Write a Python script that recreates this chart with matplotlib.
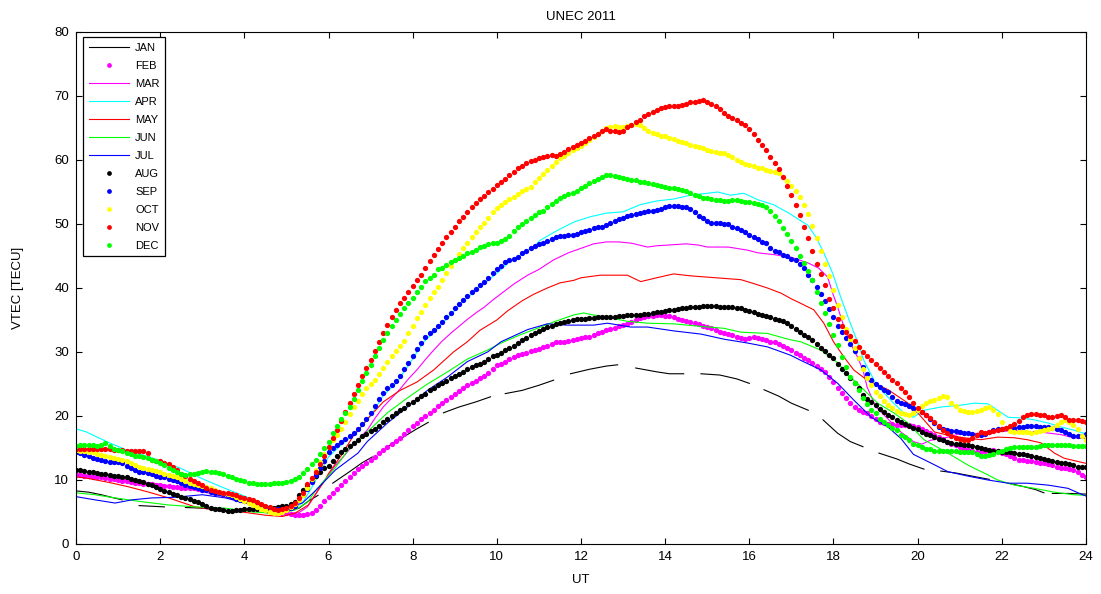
import numpy as np
import matplotlib
matplotlib.use("Agg")
import matplotlib.pyplot as plt

plt.rcParams['font.family'] = ['Liberation Sans', 'DejaVu Sans']

# time grid of the dotted series (0.1 h steps)
UT = np.round(np.arange(241) * 0.1, 1)

FEB = [10.8,10.8,10.7,10.6,10.5,10.5,10.4,10.3,10.2,10.1,
       10.0,9.9,9.8,9.7,9.6,9.5,9.4,9.3,9.3,9.2,
       9.2,9.1,9.0,8.9,8.9,8.8,8.8,8.7,8.7,8.6,
       8.5,8.4,8.3,8.2,8.1,8.0,7.8,7.5,7.3,7.0,
       6.7,6.5,6.2,6.0,5.8,5.6,5.4,5.2,5.0,4.9,
       4.8,4.7,4.6,4.5,4.5,4.7,4.9,5.3,6.0,6.7,
       7.3,8.0,8.6,9.2,9.9,10.5,11.1,11.7,12.2,12.6,
       13.1,13.6,14.2,14.7,15.2,15.6,16.1,16.6,17.2,17.8,
       18.4,18.9,19.5,20.0,20.5,21.0,21.5,22.0,22.5,23.0,
       23.4,23.9,24.4,24.8,25.2,25.5,25.9,26.3,26.7,27.3,
       27.9,28.2,28.5,28.9,29.2,29.5,29.7,29.9,30.1,30.3,
       30.5,30.8,31.0,31.3,31.5,31.6,31.6,31.7,31.9,32.0,
       32.2,32.3,32.4,32.6,32.9,33.2,33.4,33.6,33.8,34.0,
       34.2,34.4,34.7,35.0,35.3,35.5,35.6,35.7,35.8,35.8,
       35.7,35.6,35.4,35.2,35.0,34.9,34.7,34.5,34.3,34.1,
       33.9,33.7,33.4,33.2,32.9,32.8,32.6,32.4,32.2,32.1,
       32.2,32.3,32.2,32.0,31.8,31.6,31.5,31.3,31.0,30.7,
       30.3,29.9,29.5,29.1,28.7,28.3,27.8,27.3,26.8,26.1,
       25.3,24.3,23.6,22.8,22.1,21.4,21.0,20.7,20.5,20.0,
       19.6,19.1,18.9,18.8,18.7,18.6,18.6,18.6,18.6,18.5,
       18.3,17.9,17.6,17.3,17.0,16.7,16.4,16.0,15.7,15.4,
       15.1,14.9,14.7,14.5,14.4,14.4,14.5,14.6,14.7,14.5,
       14.2,14.0,13.8,13.5,13.2,13.1,13.0,12.9,12.8,12.7,
       12.6,12.5,12.3,12.1,11.9,11.8,11.7,11.6,11.3,10.8,
       10.5]

AUG = [11.6,11.5,11.4,11.3,11.2,11.1,11.0,10.9,10.8,10.7,
       10.6,10.5,10.4,10.2,10.0,9.9,9.7,9.4,9.2,8.9,
       8.6,8.3,8.1,7.8,7.6,7.4,7.2,7.0,6.7,6.5,
       6.2,6.0,5.7,5.5,5.4,5.3,5.2,5.2,5.3,5.3,
       5.4,5.5,5.5,5.5,5.6,5.6,5.7,5.7,5.8,5.9,
       6.0,6.2,6.6,7.7,8.4,9.1,9.9,10.7,11.3,11.8,
       12.2,13.0,13.7,14.3,14.8,15.3,15.8,16.3,16.8,17.2,
       17.6,18.0,18.5,19.0,19.5,20.0,20.5,20.9,21.3,21.8,
       22.2,22.6,23.1,23.5,24.0,24.4,24.8,25.2,25.5,25.9,
       26.2,26.6,26.9,27.3,27.6,27.9,28.2,28.5,28.9,29.3,
       29.6,29.9,30.3,30.6,31.0,31.4,31.8,32.2,32.6,32.9,
       33.3,33.6,33.9,34.1,34.3,34.5,34.7,34.8,35.0,35.1,
       35.2,35.2,35.3,35.3,35.4,35.4,35.5,35.5,35.5,35.6,
       35.7,35.8,35.8,35.8,35.8,35.9,36.0,36.1,36.2,36.3,
       36.4,36.5,36.6,36.7,36.8,36.9,37.0,37.1,37.1,37.2,
       37.2,37.2,37.2,37.1,37.0,37.0,37.0,36.9,36.8,36.6,
       36.4,36.2,36.0,35.8,35.6,35.4,35.2,35.0,34.8,34.5,
       34.1,33.6,33.1,32.7,32.3,31.9,31.3,30.7,30.2,29.6,
       29.0,28.2,27.4,26.7,25.9,25.1,24.3,23.3,22.6,22.2,
       21.7,21.1,20.6,20.2,19.8,19.4,19.1,18.7,18.4,18.2,
       17.9,17.5,17.2,17.0,16.7,16.4,16.2,16.0,15.8,15.7,
       15.6,15.5,15.4,15.3,15.1,15.0,14.8,14.7,14.6,14.5,
       14.4,14.3,14.3,14.2,14.1,14.0,13.9,13.8,13.6,13.4,
       13.3,13.1,12.9,12.8,12.7,12.6,12.5,12.3,12.1,12.0,
       12.0]

SEP = [14.4,14.2,13.9,13.7,13.5,13.3,13.1,12.9,12.8,12.8,
       12.8,12.6,12.2,11.8,11.5,11.3,11.2,11.1,10.9,10.7,
       10.5,10.4,10.2,10.0,9.8,9.5,9.2,9.0,8.9,8.7,
       8.5,8.4,8.2,8.0,7.9,7.8,7.6,7.4,7.1,6.9,
       6.7,6.5,6.3,6.1,5.9,5.8,5.6,5.5,5.4,5.3,
       5.4,5.6,6.0,6.8,7.7,8.6,9.7,10.8,11.9,13.0,
       14.4,15.0,15.4,15.9,16.4,16.9,17.4,17.9,18.7,19.6,
       20.5,21.5,22.6,23.6,24.3,24.9,25.5,26.3,27.3,28.3,
       29.3,30.4,31.4,32.3,32.9,33.5,34.0,34.7,35.4,36.1,
       36.8,37.5,38.1,38.7,39.3,39.9,40.4,41.0,41.5,42.3,
       42.9,43.4,44.0,44.3,44.6,44.9,45.4,45.8,46.2,46.6,
       46.9,47.1,47.4,47.7,48.0,48.1,48.2,48.3,48.3,48.5,
       48.7,48.9,49.1,49.3,49.5,49.6,49.8,50.1,50.4,50.8,
       51.0,51.2,51.4,51.6,51.7,51.8,52.0,52.1,52.2,52.4,
       52.6,52.8,52.8,52.8,52.7,52.6,52.3,51.8,51.3,50.9,
       50.5,50.2,50.1,50.1,50.0,50.0,49.6,49.3,49.1,48.7,
       48.3,48.0,47.6,47.2,47.0,46.2,45.8,45.6,45.2,45.0,
       44.6,44.3,43.7,43.1,42.1,41.2,40.2,39.1,38.0,36.7,
       35.4,34.1,33.1,32.2,31.2,30.2,29.0,27.7,26.6,25.6,
       25.0,24.5,24.1,23.7,22.9,22.3,22.0,21.8,21.6,21.3,
       21.0,20.6,20.1,19.5,18.9,18.3,18.0,17.8,17.7,17.6,
       17.5,17.4,17.3,17.2,17.1,17.0,17.2,17.5,17.8,17.9,
       18.0,18.1,18.1,18.2,18.3,18.3,18.4,18.4,18.4,18.3,
       18.3,18.3,18.2,18.0,17.8,17.5,17.2,16.9,16.8,16.9,
       17.2]

OCT = [14.7,14.6,14.5,14.4,14.3,14.1,13.9,13.7,13.6,13.4,
       13.3,13.2,13.0,12.7,12.4,12.1,11.9,11.7,11.5,11.4,
       11.2,11.0,10.8,10.6,10.4,10.1,9.9,9.6,9.4,9.2,
       9.0,8.9,8.7,8.5,8.2,8.0,7.8,7.6,7.3,7.0,
       6.7,6.4,6.1,5.8,5.5,5.3,5.0,4.8,4.8,5.0,
       5.3,5.8,6.3,6.9,7.6,8.8,10.2,11.6,12.8,14.0,
       15.2,16.2,17.1,18.0,19.0,20.3,21.4,22.4,23.4,24.3,
       25.0,25.7,26.6,27.5,28.4,29.3,30.1,30.9,31.7,32.9,
       34.1,35.3,36.3,37.4,38.5,39.4,40.2,41.3,42.4,43.4,
       44.4,45.3,46.3,47.1,47.9,48.8,49.5,50.2,51.0,51.8,
       52.5,53.0,53.5,53.9,54.2,54.7,55.1,55.5,55.8,56.5,
       57.2,57.8,58.4,59.0,59.7,60.3,60.7,61.1,61.5,61.9,
       62.2,62.6,63.1,63.6,64.1,64.6,65.0,65.2,65.3,65.2,
       65.2,65.3,65.4,65.6,65.4,65.0,64.6,64.2,64.0,63.8,
       63.7,63.5,63.3,63.0,62.8,62.6,62.4,62.2,62.0,61.8,
       61.6,61.4,61.2,61.1,61.1,60.8,60.4,60.0,59.7,59.4,
       59.2,59.0,58.8,58.7,58.5,58.3,58.1,57.9,57.3,56.7,
       55.9,55.1,54.2,52.9,51.5,49.7,47.8,45.8,43.8,41.8,
       39.7,37.3,35.4,33.6,32.0,30.6,29.0,27.4,26.0,24.8,
       23.8,23.1,22.3,21.7,21.2,20.8,20.5,20.3,20.2,20.5,
       21.0,21.6,22.1,22.3,22.5,22.8,23.1,22.9,22.1,21.5,
       21.0,20.8,20.6,20.6,20.8,20.9,21.2,21.4,21.0,20.3,
       19.0,18.2,17.7,17.5,17.5,17.5,17.5,17.4,17.5,17.6,
       17.8,18.0,18.2,18.6,19.0,19.4,19.0,18.6,18.0,16.8,
       16.3]

NOV = [14.8,14.8,14.8,14.8,14.8,14.8,14.9,14.9,14.8,14.7,
       14.7,14.7,14.6,14.6,14.5,14.5,14.5,14.2,13.2,13.0,
       12.9,12.7,12.5,12.0,11.5,11.0,10.6,10.2,9.8,9.5,
       9.2,8.8,8.5,8.3,8.1,8.0,7.9,7.8,7.6,7.4,
       7.2,7.0,6.8,6.5,6.3,6.0,5.8,5.5,5.3,5.4,
       5.6,6.0,6.4,7.2,8.0,9.3,10.3,11.3,12.5,13.8,
       15.2,16.6,17.8,19.2,20.7,22.0,23.4,24.8,26.2,27.5,
       28.8,30.2,31.6,33.0,34.2,35.4,36.5,37.6,38.5,39.4,
       40.3,41.2,42.0,43.2,44.2,45.2,46.1,47.1,48.0,48.8,
       49.6,50.4,51.1,51.9,52.7,53.3,53.9,54.4,55.0,55.5,
       56.1,56.6,57.1,57.6,58.2,58.7,59.1,59.5,59.8,60.0,
       60.3,60.5,60.7,60.8,60.7,60.9,61.3,61.7,62.0,62.3,
       62.6,63.0,63.4,63.8,64.1,64.5,64.8,64.6,64.6,64.3,
       64.6,65.1,65.5,65.9,66.3,66.8,67.2,67.5,67.8,68.1,
       68.3,68.4,68.5,68.5,68.6,68.8,69.0,69.1,69.2,69.3,
       69.0,68.8,68.4,67.9,67.4,66.9,66.5,66.2,65.8,65.4,
       64.8,64.0,63.2,62.3,61.5,60.5,59.5,58.6,57.3,56.0,
       54.5,53.0,51.4,49.6,47.8,45.8,43.8,42.2,40.4,38.3,
       36.8,35.2,34.0,33.2,32.5,31.7,30.8,30.0,29.4,28.7,
       28.1,27.5,26.9,26.3,25.7,25.1,24.4,23.7,22.9,22.1,
       21.3,20.7,20.2,19.7,19.1,18.4,17.8,17.3,16.8,16.5,
       16.4,16.3,16.3,16.6,17.1,17.5,17.4,17.5,17.6,17.8,
       18.0,18.2,18.4,18.7,19.2,19.8,20.2,20.3,20.3,20.2,
       20.1,19.9,19.8,20.0,20.1,19.8,19.3,19.3,19.4,19.2,
       19.0]

DEC = [15.3,15.4,15.5,15.5,15.4,15.3,15.5,15.8,15.3,14.9,
       14.7,14.5,14.2,14.0,13.8,13.7,13.6,13.4,13.1,12.9,
       12.6,12.3,11.9,11.6,11.3,11.0,10.8,10.9,11.0,11.1,
       11.3,11.4,11.3,11.2,11.1,10.9,10.7,10.4,10.2,10.0,
       9.8,9.6,9.5,9.4,9.4,9.4,9.4,9.5,9.5,9.6,
       9.7,9.8,10.1,10.5,11.1,11.7,12.5,13.2,14.1,15.0,
       16.0,17.3,18.5,19.6,20.5,21.4,22.7,24.1,25.4,26.7,
       28.0,29.3,30.6,31.9,33.0,34.0,35.0,36.0,36.9,37.7,
       38.5,39.3,40.2,41.1,41.6,42.1,42.9,43.2,43.6,44.1,
       44.4,44.7,45.0,45.4,45.7,46.0,46.4,46.6,46.8,47.0,
       47.1,47.3,47.6,48.2,48.9,49.5,50.0,50.5,51.0,51.4,
       51.8,52.1,52.6,53.1,53.6,54.0,54.4,54.7,54.9,55.2,
       55.6,56.0,56.4,56.7,57.0,57.3,57.6,57.7,57.5,57.3,
       57.2,57.0,56.9,56.8,56.6,56.5,56.4,56.2,56.1,55.9,
       55.8,55.7,55.6,55.4,55.3,55.2,54.9,54.5,54.3,54.1,
       54.0,53.9,53.8,53.7,53.6,53.6,53.7,53.7,53.6,53.5,
       53.4,53.3,53.2,53.0,52.6,52.0,51.3,50.4,49.4,48.4,
       47.4,46.2,45.0,43.9,42.6,41.2,39.3,37.7,36.1,34.3,
       32.7,31.1,29.2,27.6,26.1,25.2,24.1,22.8,21.8,21.0,
       20.4,19.6,19.0,18.6,18.2,17.8,17.1,16.7,16.2,15.7,
       15.4,15.1,14.9,14.8,14.6,14.5,14.5,14.5,14.5,14.5,
       14.4,14.4,14.4,14.3,14.0,13.8,13.8,13.9,14.0,14.3,
       14.5,14.8,15.0,15.1,15.2,15.2,15.2,15.2,15.2,15.3,
       15.4,15.5,15.5,15.5,15.5,15.5,15.4,15.3,15.3,15.3,
       15.3]

# line series (own time points, NaN = data gap)
nan = np.nan
JAN_UT = [0.0,0.3,0.6,0.9,1.1,1.2, 1.5,1.8,2.1,2.2, 2.6,3.0,3.5,3.9,4.1,
          4.5,4.9,5.3,5.5,5.75,5.9, 6.1,6.5,6.8,7.04,7.2, 7.4,7.8,8.1,8.37,8.5,
          8.73,9.1,9.5,9.85,10.0, 10.2,10.6,11.0,11.35,11.5, 11.75,12.2,12.6,12.87,13.1,
          13.3,13.8,14.1,14.44,14.6, 14.85,15.3,15.7,16.0,16.2, 16.35,16.7,17.0,17.4,17.6,
          17.75,18.1,18.4,18.7,18.9, 19.08,19.5,19.8,20.15,20.35, 20.55,20.9,21.3,21.7,21.9,
          22.15,22.5,22.8,23.0,23.1, 23.2,23.6,24.0]
JAN = [8.3,8.1,7.7,7.2,6.9,nan, 6.0,5.9,5.8,nan, 5.7,5.6,5.3,5.1,nan,
       4.9,4.9,5.6,6.6,7.6,nan, 9.5,11.3,12.7,13.6,nan, 15.2,16.8,18.0,19.0,nan,
       20.5,21.4,22.2,23.0,nan, 23.5,24.0,24.8,25.6,nan, 26.6,27.3,27.8,28.0,nan,
       27.5,26.9,26.6,26.6,nan, 26.6,26.4,25.8,25.1,nan, 24.1,23.1,22.0,20.9,nan,
       19.4,17.3,16.0,15.2,nan, 14.2,13.3,12.5,11.7,nan, 11.4,11.1,10.6,10.1,nan,
       9.5,9.0,8.5,8.0,nan, 7.9,7.9,7.8]

MAR_UT = [0.0,0.5,1.0,1.5,2.0,2.5,3.0,3.5,4.0,4.5,4.8,5.0,5.3,5.5,5.65,5.8,5.97,6.15,
          6.35,6.6,6.92,7.1,7.3,7.5,7.7,7.9,8.1,8.3,8.5,8.7,8.9,9.1,9.3,9.5,9.7,9.9,
          10.1,10.4,10.73,11.0,11.35,11.7,12.0,12.3,12.6,12.9,13.2,13.58,13.8,14.05,
          14.5,14.8,15.0,15.5,15.97,16.2,16.6,17.0,17.4,17.65,17.86,17.98,18.1,18.25,
          18.4,18.57,18.7,18.8,19.0,19.3,19.6,19.9,20.1,20.3,20.6,21.0,21.5,22.0,22.3,
          22.9,23.4,23.7,24.0]
MAR = [11.0,10.6,10.2,9.8,9.3,8.8,8.2,7.4,6.5,5.6,5.0,4.8,4.9,5.8,7.3,9.0,10.5,12.2,
       13.6,15.6,17.8,19.6,21.4,22.8,24.2,25.8,27.2,28.8,30.3,31.7,32.9,34.0,35.1,36.1,37.0,38.1,
       39.1,40.6,42.0,42.9,44.4,45.5,46.2,46.9,47.2,47.2,47.0,46.4,46.6,46.7,
       46.9,46.7,46.4,46.4,45.9,45.5,45.2,44.8,43.9,43.1,41.7,39.2,37.0,33.9,
       31.4,29.2,27.2,24.5,21.5,19.5,17.5,16.0,15.6,16.2,16.5,17.2,17.3,17.6,17.7,
       17.5,17.1,16.6,16.5]

APR_UT = [0.0,0.25,0.5,0.8,1.2,1.6,2.0,2.5,3.0,3.5,4.0,4.4,4.8,5.0,5.2,5.4,5.6,5.8,6.0,
          6.3,6.68,7.0,7.3,7.63,7.95,8.25,8.58,8.9,9.2,9.53,9.85,10.05,10.3,10.6,10.9,11.04,
          11.44,11.83,12.2,12.6,13.0,13.4,13.8,14.2,14.6,15.0,15.25,15.55,15.87,16.2,16.58,
          16.94,17.2,17.39,17.58,17.77,17.98,18.17,18.37,18.57,18.72,18.9,19.0,19.2,19.43,
          19.67,19.9,20.15,20.55,21.03,21.34,21.67,21.9,22.15,22.45,22.77,23.1,23.4,23.7,24.0]
APR = [18.0,17.5,16.7,15.8,14.7,13.9,13.0,11.8,10.2,8.8,7.5,6.4,5.3,5.2,5.6,6.6,8.8,11.2,13.6,
       15.5,17.5,20.0,23.2,25.3,28.4,31.5,33.6,35.8,37.9,39.8,41.5,42.6,44.1,45.3,46.6,47.5,
       49.0,50.3,51.1,51.7,51.9,53.0,53.6,53.9,54.5,54.8,55.0,54.5,54.8,53.8,53.0,
       51.7,50.6,49.8,48.0,45.5,42.3,38.6,35.0,31.6,28.7,26.4,25.1,23.6,22.0,
       20.5,19.8,20.9,21.4,21.7,22.0,21.9,20.9,19.8,19.7,19.4,18.9,18.3,17.8,17.2]

MAY_UT = [0.0,0.24,0.8,1.27,1.73,2.2,2.83,3.3,3.95,4.5,4.9,5.2,5.52,5.92,6.0,6.3,6.6,6.92,
          7.3,7.7,8.1,8.5,8.97,9.3,9.6,10.0,10.25,10.6,10.87,11.2,11.5,11.83,12.0,12.46,13.1,
          13.42,13.8,14.2,14.6,15.0,15.8,16.1,16.43,16.75,17.0,17.22,17.53,17.77,18.0,18.25,
          18.48,18.8,19.3,19.84,20.4,20.72,21.1,21.5,21.9,22.3,22.6,22.93,23.25,23.48,24.0]
MAY = [10.5,10.3,9.6,8.9,8.1,7.2,5.8,5.3,5.0,4.5,4.3,4.8,6.1,10.0,11.0,13.8,17.0,19.5,
       22.2,24.0,25.3,27.2,30.0,31.6,33.4,35.0,36.4,38.0,39.0,40.0,40.8,41.2,41.6,42.0,42.0,
       41.0,41.6,42.2,41.9,41.7,41.3,40.7,40.0,39.2,38.3,37.6,36.6,34.5,31.6,29.2,
       27.2,25.6,24.1,21.7,17.5,17.0,16.6,16.3,16.7,16.6,16.3,15.8,14.2,13.4,12.6]

JUN_UT = [0.0,0.45,0.93,1.57,2.2,2.83,3.55,4.2,4.75,5.2,5.5,5.7,6.17,6.5,6.92,7.4,7.87,8.35,
          8.83,9.3,9.78,10.1,10.56,11.04,11.35,11.83,12.06,12.2,12.63,13.1,13.58,14.2,14.85,
          15.4,15.8,16.43,16.98,17.22,17.7,18.1,18.4,18.72,19.05,19.43,19.77,20.0,20.15,20.72,
          21.2,21.67,21.9,22.3,22.77,23.25,23.7,24.0]
JUN = [8.0,7.7,7.2,6.6,6.1,5.8,5.6,5.0,4.8,5.3,6.5,8.4,12.0,15.0,17.5,20.5,22.8,25.0,
       26.9,28.9,30.3,31.4,32.7,33.9,34.7,35.8,36.1,35.9,35.4,34.8,34.5,34.4,34.0,
       33.7,33.1,32.9,31.9,31.6,30.3,28.3,26.1,24.1,22.0,20.5,18.9,17.3,16.3,14.2,
       12.3,10.8,10.0,9.2,8.7,8.1,7.7,7.6]

JUL_UT = [0.0,0.45,0.93,1.33,1.8,2.35,3.0,3.55,4.2,4.57,4.97,5.38,5.7,6.17,6.7,6.92,7.4,7.87,
          8.35,8.83,9.3,9.78,10.1,10.73,11.2,11.68,12.3,12.63,13.18,13.58,14.2,14.85,15.4,
          15.96,16.43,16.98,17.22,17.7,18.1,18.48,18.9,19.29,19.6,19.9,20.3,20.72,21.2,21.67,
          22.15,22.6,23.1,23.57,23.88,24.0]
JUL = [7.4,6.9,6.4,6.9,7.2,7.3,7.7,7.2,6.1,5.6,5.6,6.4,8.4,11.6,14.2,16.0,18.9,21.4,
       24.0,26.1,28.5,30.0,31.6,33.5,34.4,34.2,34.2,34.5,33.9,33.9,33.3,32.8,32.0,
       31.4,30.8,29.5,28.7,27.2,25.1,22.5,19.8,18.3,16.5,14.0,12.7,11.3,10.6,10.0,
       9.5,9.5,9.2,8.7,7.8,7.5]

LW = 0.8
DOT = dict(ls='none', marker='o', ms=3.8, mew=0)

fig = plt.figure(figsize=(11.01, 5.94), dpi=100)
ax = fig.add_axes([76/1101, 50/594, 1010/1101, 512/594])

ax.plot(JAN_UT, JAN, color='k', lw=LW, label='JAN')
ax.plot(UT, FEB, color='#ff00ff', label='FEB', **DOT)
ax.plot(MAR_UT, MAR, color='#ff00ff', lw=LW, label='MAR')
ax.plot(APR_UT, APR, color='#00ffff', lw=LW, label='APR')
ax.plot(MAY_UT, MAY, color='#ff0000', lw=LW, label='MAY')
ax.plot(JUN_UT, JUN, color='#00ff00', lw=LW, label='JUN')
ax.plot(JUL_UT, JUL, color='#0000ff', lw=LW, label='JUL')
ax.plot(UT, AUG, color='k', label='AUG', **DOT)
ax.plot(UT, SEP, color='#0000ff', label='SEP', **DOT)
ax.plot(UT, OCT, color='#ffff00', label='OCT', **DOT)
ax.plot(UT, NOV, color='#ff0000', label='NOV', **DOT)
ax.plot(UT, DEC, color='#00ff00', label='DEC', **DOT)

ax.set_xlim(0, 24)
ax.set_ylim(0, 80)
ax.set_xticks(np.arange(0, 25, 2))
ax.set_yticks(np.arange(0, 81, 10))
ax.tick_params(direction='in', top=True, right=True, length=4, width=0.8,
               labelsize=9.5, colors='k', pad=5)
for s in ax.spines.values():
    s.set_linewidth(0.8)
    s.set_color('k')

ax.set_title('UNEC 2011', fontsize=9.5, pad=9)
ax.set_xlabel('UT', fontsize=9.5, labelpad=8)
ax.set_ylabel('VTEC [TECU]', fontsize=9.5, labelpad=22)

leg = ax.legend(loc='upper left', bbox_to_anchor=(0.0069, 0.990), borderaxespad=0,
                fontsize=8, frameon=True, fancybox=False, edgecolor='k',
                framealpha=1, handlelength=3.6, handletextpad=0.6,
                labelspacing=0.72, borderpad=0.5, markerscale=0.9)
leg.get_frame().set_linewidth(0.9)

fig.savefig('out.png', dpi=100)
